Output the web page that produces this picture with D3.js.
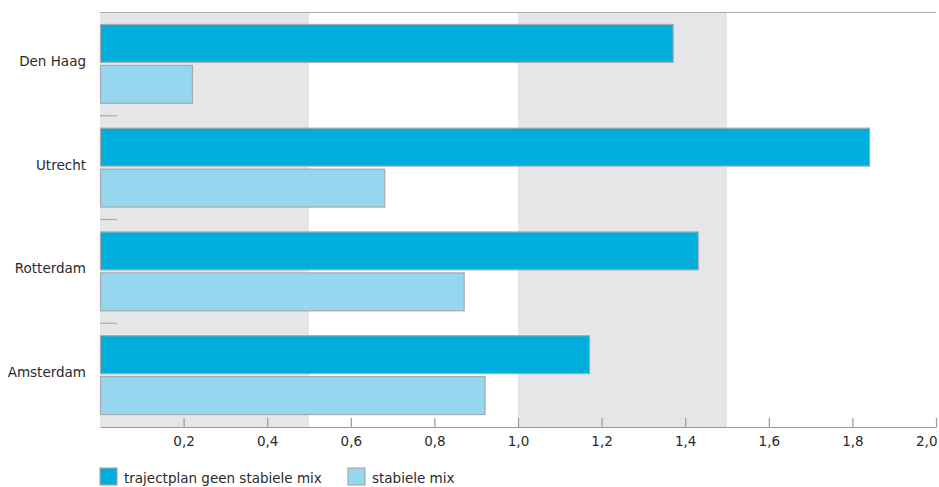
<!DOCTYPE html>
<html>
<head>
<meta charset="utf-8">
<script src="https://cdn.jsdelivr.net/npm/d3@7"></script>
<style>
  html, body { margin: 0; padding: 0; background: #fff; }
  svg text { font-family: "DejaVu Sans", sans-serif; fill: #2a2a2a; }
</style>
</head>
<body>
<svg id="chart" width="939" height="487"></svg>
<script>
const categories = ["Den Haag", "Utrecht", "Rotterdam", "Amsterdam"];
const seriesNames = ["trajectplan geen stabiele mix", "stabiele mix"];
const seriesGeen = [1.37, 1.84, 1.43, 1.17];
const seriesStabiel = [0.22, 0.68, 0.87, 0.92];
const tickValues = [0.2, 0.4, 0.6, 0.8, 1.0, 1.2, 1.4, 1.6, 1.8, 2.0];
const shadedBands = [[0, 0.5], [1.0, 1.5]];
const colors = ["#00aedb", "#94d7ef"];

const svg = d3.select("#chart");
const mLeft = 100, mRight = 936, mTop = 12, mBottom = 427;

const x = d3.scaleLinear().domain([0, 2.0]).range([mLeft, mRight]);
const y = d3.scaleBand().domain(categories).range([mTop, mBottom]).paddingInner(0.24).paddingOuter(0.12);
const ySub = d3.scaleBand().domain(seriesNames).range([0, y.bandwidth()]).paddingInner(0.075);

// shaded bands
svg.append("g").selectAll("rect").data(shadedBands).join("rect")
  .attr("x", d => x(d[0])).attr("width", d => x(d[1]) - x(d[0]))
  .attr("y", mTop).attr("height", mBottom - mTop)
  .attr("fill", "#e5e6e8");

// top line
svg.append("line").attr("x1", mLeft).attr("x2", mRight).attr("y1", mTop + 0.5).attr("y2", mTop + 0.5)
  .attr("stroke", "#aaa").attr("stroke-width", 1.2);

// category separators
const step = y.step();
svg.append("g").selectAll("line").data(categories.slice(1)).join("line")
  .attr("x1", mLeft).attr("x2", mLeft + 17)
  .attr("y1", d => y(d) - y.paddingInner() * step / 2)
  .attr("y2", d => y(d) - y.paddingInner() * step / 2)
  .attr("stroke", "#aaa").attr("stroke-width", 1.2);

// bars
const data = [];
categories.forEach((c, i) => {
  data.push({ cat: c, s: seriesNames[0], v: seriesGeen[i], color: colors[0] });
  data.push({ cat: c, s: seriesNames[1], v: seriesStabiel[i], color: colors[1] });
});
svg.append("g").selectAll("rect").data(data).join("rect")
  .attr("x", x(0) + 0.5)
  .attr("y", d => y(d.cat) + ySub(d.s))
  .attr("width", d => x(d.v) - x(0))
  .attr("height", ySub.bandwidth())
  .attr("fill", d => d.color)
  .attr("stroke", "#a7a9ac").attr("stroke-width", 1.2);

// category labels
svg.append("g").selectAll("text").data(categories).join("text")
  .attr("x", 86).attr("y", d => y(d) + y.bandwidth() / 2 - 3)
  .attr("text-anchor", "end").attr("dominant-baseline", "central")
  .attr("font-size", "13.5px").text(d => d);

// x axis
const fmt = d3.format(".1f");
const axis = svg.append("g").attr("transform", `translate(0,${mBottom})`)
  .call(d3.axisBottom(x).tickValues(tickValues).tickSizeInner(-9).tickSizeOuter(0).tickPadding(9)
    .tickFormat(d => fmt(d).replace(".", ",")));
axis.select(".domain").attr("stroke", "#999").attr("stroke-width", 1.2);
axis.selectAll(".tick line").attr("stroke", "#999").attr("stroke-width", 1.2);
axis.selectAll(".tick text").attr("font-size", "13.5px").attr("font-family", "DejaVu Sans, sans-serif").attr("fill", "#2a2a2a");
axis.selectAll(".tick text").filter(d => d === 2.0).attr("text-anchor", "end").attr("x", 1);

// legend
const legendX = [100, 348];
const lg = svg.append("g").selectAll("g").data(seriesNames).join("g")
  .attr("transform", (d, i) => `translate(${legendX[i]},468)`);
lg.append("rect").attr("width", 17).attr("height", 17)
  .attr("fill", (d, i) => colors[i]).attr("stroke", "#a7a9ac").attr("stroke-width", 1.2);
lg.append("text").attr("x", 24).attr("y", 9.5).attr("dominant-baseline", "central")
  .attr("font-size", "13.5px").text(d => d);
</script>
</body>
</html>
